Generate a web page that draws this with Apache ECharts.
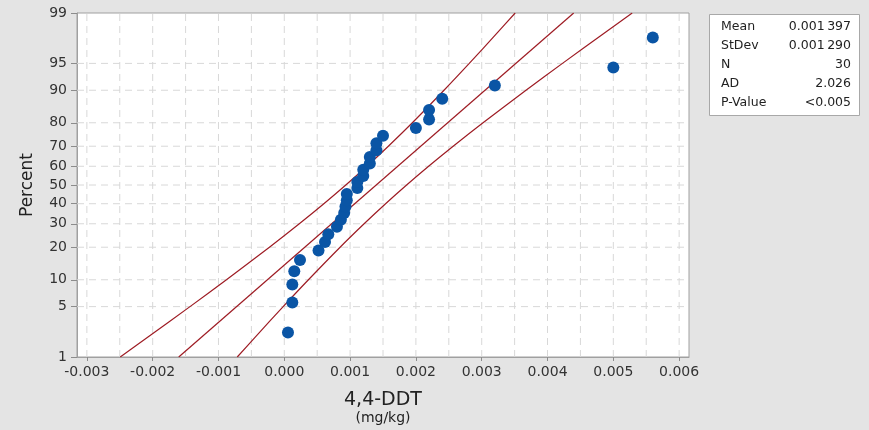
<!DOCTYPE html>
<html>
<head>
<meta charset="utf-8">
<script src="https://cdn.jsdelivr.net/npm/echarts@6/dist/echarts.min.js"></script>
<style>
  html, body { margin: 0; padding: 0; background: #e4e4e4; }
  #chart { width: 869px; height: 430px; }
</style>
</head>
<body>
<div id="chart"></div>
<script>
// 4,4-DDT concentrations (mg/kg), sorted ascending
const ddtValues = [
  0.000056, 0.000122, 0.000122, 0.000152, 0.000239, 0.00052, 0.000619, 0.000669,
  0.0008, 0.00086, 0.00091, 0.00093, 0.00095, 0.00095, 0.00111, 0.00111,
  0.0012, 0.0012, 0.0013, 0.0013, 0.0014, 0.0014, 0.0015, 0.002,
  0.0022, 0.0022, 0.0024, 0.0032, 0.005, 0.0056
];
// Plotting position (percent) of each observation
const ddtPercents = [
  2.3, 5.6, 8.9, 12.2, 15.5, 18.8, 22.0, 25.3, 28.6, 31.9, 35.2, 38.5, 41.8, 45.1, 48.4,
  51.6, 54.9, 58.2, 61.5, 64.8, 68.1, 71.4, 74.7, 78.0, 81.2, 84.5, 87.8, 91.1, 94.4, 97.7
];

// Percent scale ticks and x ticks
const percentTicks = [1, 5, 10, 20, 30, 40, 50, 60, 70, 80, 90, 95, 99];
const xTicks = [-0.003, -0.002, -0.001, 0, 0.001, 0.002, 0.003, 0.004, 0.005, 0.006];
const xGridLines = [-0.003, -0.0025, -0.002, -0.0015, -0.001, -0.0005, 0, 0.0005, 0.001,
  0.0015, 0.002, 0.0025, 0.003, 0.0035, 0.004, 0.0045, 0.005, 0.0055, 0.006];

// 95% confidence band of the normal fit, x values at each percent level
const bandPercents = [1, 2, 5, 10, 20, 30, 40, 50, 60, 70, 80, 90, 95, 98, 99];
const lowerBand = [-0.002493, -0.002066, -0.001433, -0.000879, -0.000226, 0.000228, 0.000601,
  0.000935, 0.001255, 0.001581, 0.001946, 0.002427, 0.002811, 0.003232, 0.003509];
const upperBand = [-0.000715, -0.000438, -0.000017, 0.000367, 0.000848, 0.001213, 0.001539,
  0.001859, 0.002193, 0.002566, 0.003020, 0.003673, 0.004227, 0.004860, 0.005287];

// Summary statistics
const fitMean = 0.001397;
const fitStDev = 0.001290;
const statLabels = ['Mean', 'StDev', 'N', 'AD', 'P-Value'];
const statValues = ['0.001\u2009397', '0.001\u2009290', '30', '2.026', '<0.005'];

// Inverse standard normal CDF (Acklam's approximation)
function probit(p) {
  const a = [-3.969683028665376e+01, 2.209460984245205e+02, -2.759285104469687e+02,
    1.383577518672690e+02, -3.066479806614716e+01, 2.506628277459239e+00];
  const b = [-5.447609879822406e+01, 1.615858368580409e+02, -1.556989798598866e+02,
    6.680131188771011e+01, -1.328068155288572e+01];
  const c = [-7.784894002430293e-03, -3.223964580411365e-01, -2.400758277161838e+00,
    -2.549732539343734e+00, 4.374664141464968e+00, 2.938163982698783e+00];
  const d = [7.784695709041462e-03, 3.224671290700398e-01, 2.445134137142996e+00,
    3.754408661907416e+00];
  const pl = 0.02425, ph = 1 - pl;
  let q, r;
  if (p < pl) {
    q = Math.sqrt(-2 * Math.log(p));
    return (((((c[0] * q + c[1]) * q + c[2]) * q + c[3]) * q + c[4]) * q + c[5]) /
      ((((d[0] * q + d[1]) * q + d[2]) * q + d[3]) * q + 1);
  }
  if (p <= ph) {
    q = p - 0.5; r = q * q;
    return (((((a[0] * r + a[1]) * r + a[2]) * r + a[3]) * r + a[4]) * r + a[5]) * q /
      (((((b[0] * r + b[1]) * r + b[2]) * r + b[3]) * r + b[4]) * r + 1);
  }
  q = Math.sqrt(-2 * Math.log(1 - p));
  return -(((((c[0] * q + c[1]) * q + c[2]) * q + c[3]) * q + c[4]) * q + c[5]) /
    ((((d[0] * q + d[1]) * q + d[2]) * q + d[3]) * q + 1);
}
const z = pct => probit(pct / 100);

const X_MIN = -0.00315, X_MAX = 0.00615;
const yMin = z(percentTicks[0]);
const yMax = z(percentTicks[percentTicks.length - 1]);
const yTickValues = percentTicks.map(z);

const FONT = 'DejaVu Sans';
const LINE_RED = '#9e1c24';
const GRID_GREY = '#d8d8d8';

const pointData = ddtValues.map((v, i) => [v, z(ddtPercents[i])]);
const lowerData = bandPercents.map((p, i) => [lowerBand[i], z(p)]);
const upperData = bandPercents.map((p, i) => [upperBand[i], z(p)]);
const fitData = [[fitMean + fitStDev * yMin, yMin], [fitMean + fitStDev * yMax, yMax]];

// Dashed reference grid: one short line series per grid line
const gridSeries = xGridLines.map(v => [[v, yMin], [v, yMax]])
  .concat(percentTicks.slice(1, -1).map(p => [[X_MIN, z(p)], [X_MAX, z(p)]]))
  .map(seg => ({
    type: 'line', data: seg, silent: true, showSymbol: false, z: 1,
    lineStyle: { color: GRID_GREY, width: 1, type: [7, 5] }
  }));

const statsGraphics = [{
  type: 'rect',
  shape: { x: 709.5, y: 14.5, width: 150, height: 101 },
  style: { fill: '#ffffff', stroke: '#a8a8a8', lineWidth: 1 }
}];
statLabels.forEach((lab, i) => {
  const y = 27 + i * 19;
  statsGraphics.push({
    type: 'text', x: 721, y: y,
    style: { text: lab, font: '12.5px "' + FONT + '"', fill: '#222', textVerticalAlign: 'middle' }
  });
  statsGraphics.push({
    type: 'text', x: 851, y: y,
    style: { text: statValues[i], font: '12.5px "' + FONT + '"', fill: '#222',
      textAlign: 'right', textVerticalAlign: 'middle' }
  });
});

const chart = echarts.init(document.getElementById('chart'), null, { renderer: 'canvas' });
chart.setOption({
  animation: false,
  backgroundColor: '#e4e4e4',
  grid: {
    left: 77, top: 13, width: 612, height: 344,
    show: true, backgroundColor: '#ffffff', borderColor: '#a0a0a0', borderWidth: 1
  },
  xAxis: {
    type: 'value', min: X_MIN, max: X_MAX,
    axisLine: { show: true, onZero: false, lineStyle: { color: '#a0a0a0' } },
    axisTick: { show: true, customValues: xTicks, length: 4, lineStyle: { color: '#8c8c8c' } },
    axisLabel: {
      customValues: xTicks, margin: 8, color: '#333', fontFamily: FONT, fontSize: 14,
      formatter: v => v.toFixed(3)
    },
    splitLine: { show: false }
  },
  yAxis: {
    type: 'value', min: yMin, max: yMax,
    axisLine: { show: true, onZero: false, lineStyle: { color: '#a0a0a0' } },
    axisTick: { show: true, customValues: yTickValues, length: 6, lineStyle: { color: '#8c8c8c' } },
    axisLabel: {
      customValues: yTickValues, margin: 10, color: '#333', fontFamily: FONT, fontSize: 14,
      formatter: v => {
        let best = 0;
        yTickValues.forEach((t, i) => { if (Math.abs(t - v) < Math.abs(yTickValues[best] - v)) best = i; });
        return String(percentTicks[best]);
      }
    },
    splitLine: { show: false }
  },
  graphic: [
    {
      type: 'text', x: 28, y: 185, rotation: Math.PI / 2,
      style: { text: 'Percent', font: '17px "' + FONT + '"', fill: '#222',
        textAlign: 'center', textVerticalAlign: 'middle' }
    },
    {
      type: 'text', x: 383, y: 400,
      style: { text: '4,4-DDT', font: '19px "' + FONT + '"', fill: '#222',
        textAlign: 'center', textVerticalAlign: 'middle' }
    },
    {
      type: 'text', x: 383, y: 418,
      style: { text: '(mg/kg)', font: '14px "' + FONT + '"', fill: '#222',
        textAlign: 'center', textVerticalAlign: 'middle' }
    }
  ].concat(statsGraphics),
  series: gridSeries.concat([
    {
      name: 'Lower CI', type: 'line', data: lowerData, smooth: 0.3, showSymbol: false,
      lineStyle: { color: LINE_RED, width: 1.2 }, z: 3, silent: true
    },
    {
      name: 'Fit', type: 'line', data: fitData, showSymbol: false,
      lineStyle: { color: LINE_RED, width: 1.2 }, z: 3, silent: true
    },
    {
      name: 'Upper CI', type: 'line', data: upperData, smooth: 0.3, showSymbol: false,
      lineStyle: { color: LINE_RED, width: 1.2 }, z: 3, silent: true
    },
    {
      name: '4,4-DDT', type: 'scatter', data: pointData, symbolSize: 12,
      itemStyle: { color: '#0a55a5', opacity: 1 }, z: 4
    }
  ])
});
</script>
</body>
</html>
